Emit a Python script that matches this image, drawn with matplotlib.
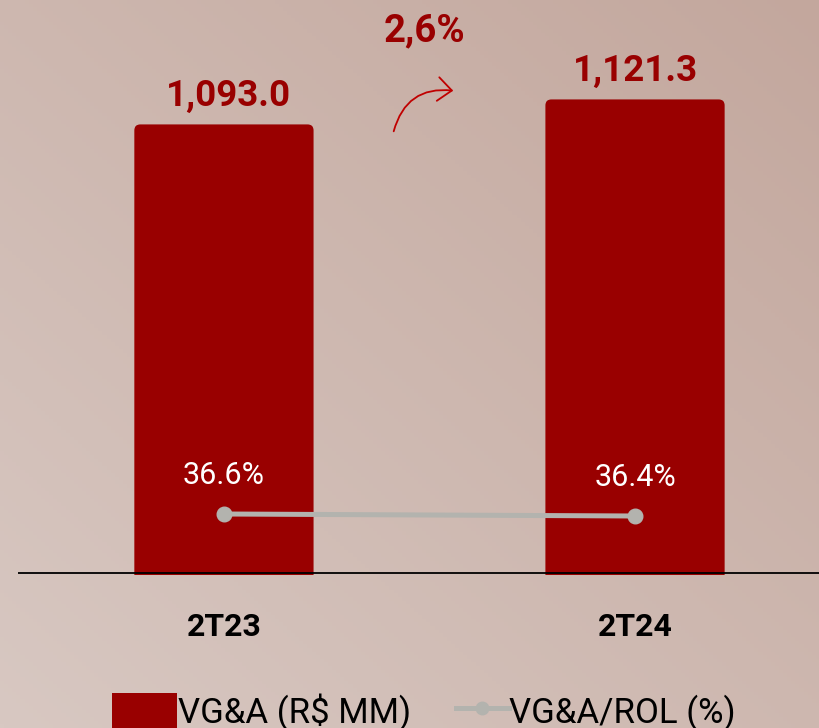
import numpy as np
import matplotlib
matplotlib.use("Agg")
import matplotlib.pyplot as plt
from matplotlib.patches import FancyBboxPatch, FancyArrowPatch, ArrowStyle, Patch
from matplotlib.lines import Line2D
from matplotlib.legend_handler import HandlerLine2D

categories = ["2T23", "2T24"]
vga_values = [1093.0, 1121.3]
vga_labels = ["1,093.0", "1,121.3"]
ratio_values = [36.6, 36.4]
ratio_labels = ["36.6%", "36.4%"]
growth_label = "2,6%"
legend_labels = ["VG&A (R$ MM)", "VG&A/ROL (%)"]

BAR_RED = "#990000"
ARROW_RED = "#C00000"
LINE_GRAY = "#B3B3AE"

W, H = 820, 728
fig = plt.figure(figsize=(W / 100, H / 100), dpi=100)

# background gradient: lightest bottom-left, darkest top-right
bg = fig.add_axes([0, 0, 1, 1], zorder=-10)
bg.set_axis_off()
yy, xx = np.mgrid[0:1:200j, 0:1:200j]
c_light = np.array([216, 200, 194]) / 255
c_dark = np.array([195, 167, 157]) / 255
tt = (xx + (1 - yy)) / 2.0
img = c_light[None, None, :] * (1 - tt[..., None]) + c_dark[None, None, :] * tt[..., None]
bg.imshow(img, extent=[0, 1, 0, 1], aspect="auto", origin="upper")
bg.set_xlim(0, 1); bg.set_ylim(0, 1)

# main axes
left_px, right_px, bottom_px, top_px = 18, 820, 575, 0
ax = fig.add_axes([left_px / W, (H - bottom_px) / H, (right_px - left_px) / W, (bottom_px - top_px) / H])
ax.patch.set_alpha(0)
x = np.arange(len(categories))
ax.set_xlim(-0.501, 1.450)
ax.set_ylim(582.7, 1233.9)

bars = ax.bar(x, vga_values, width=0.436, bottom=0, color=BAR_RED)
px_per_x = (right_px - left_px) / (1.450 + 0.501)
px_per_y = (bottom_px - top_px) / (1233.9 - 582.7)
for b in bars:
    b.set_visible(False)
    r = 6 / px_per_x
    fb = FancyBboxPatch((b.get_x(), b.get_y()), b.get_width(), b.get_height(),
                        boxstyle=f"round,pad=0,rounding_size={r}",
                        mutation_aspect=px_per_x / px_per_y,
                        facecolor=BAR_RED, edgecolor="none", zorder=2)
    ax.add_patch(fb)

for xi, v, lab in zip(x, vga_values, vga_labels):
    ax.annotate(lab, (xi, v), xytext=(3 if xi == 0 else 0, 13), textcoords="offset points",
                ha="center", va="baseline", fontsize=26.5, fontweight="bold",
                color=BAR_RED, family="Roboto")

ax.axhline(585, xmin=0, xmax=1, color="black", lw=1.3, zorder=3)

ax.set_xticks(x)
ax.set_xticklabels(categories, fontsize=23, fontweight="bold", family="Roboto")
ax.tick_params(axis="x", length=0, pad=27)
ax.set_yticks([])
for s in ax.spines.values():
    s.set_visible(False)

# secondary axis for ratio
ax2 = ax.twinx()
ax2.set_ylim(30.5, 88.0)
ax2.set_yticks([])
for s in ax2.spines.values():
    s.set_visible(False)
line, = ax2.plot(x, ratio_values, color=LINE_GRAY, lw=3.6, marker="o", markersize=10.5,
                 solid_capstyle="round", zorder=4)
for xi, v, lab in zip(x, ratio_values, ratio_labels):
    ax2.annotate(lab, (xi, v), xytext=(0, 21.5), textcoords="offset points",
                 ha="center", va="baseline", fontsize=22, color="white", family="Roboto")

# growth arrow and label
arrow = FancyArrowPatch((393 / W, (H - 134) / H), (456 / W, (H - 91) / H),
                        transform=fig.transFigure, connectionstyle="arc3,rad=-0.45",
                        arrowstyle=ArrowStyle("->", head_length=1.0, head_width=0.85),
                        mutation_scale=10, color=ARROW_RED, lw=1.3)
fig.patches.append(arrow)
fig.text(424 / W, (H - 41) / H, growth_label, ha="center", va="baseline", fontsize=27.5,
         fontweight="bold", color=BAR_RED, family="Roboto")

# legend
fs = 25
proxy_bar = Patch(facecolor=BAR_RED, edgecolor="none")
proxy_line = Line2D([0], [0], color=LINE_GRAY, lw=3.6, marker="o", markersize=9)
leg = fig.legend([proxy_bar, proxy_line], legend_labels, loc="center left",
                 bbox_to_anchor=(112 / W, (H - 712) / H), ncol=2, frameon=False,
                 prop={"family": "Roboto", "size": fs},
                 handlelength=1.87, handleheight=1.2, handletextpad=0.02,
                 columnspacing=0.95, borderpad=0, borderaxespad=0,
                 handler_map={proxy_line: HandlerLine2D(xpad=0.35)})

fig.savefig("out.png", dpi=100)
